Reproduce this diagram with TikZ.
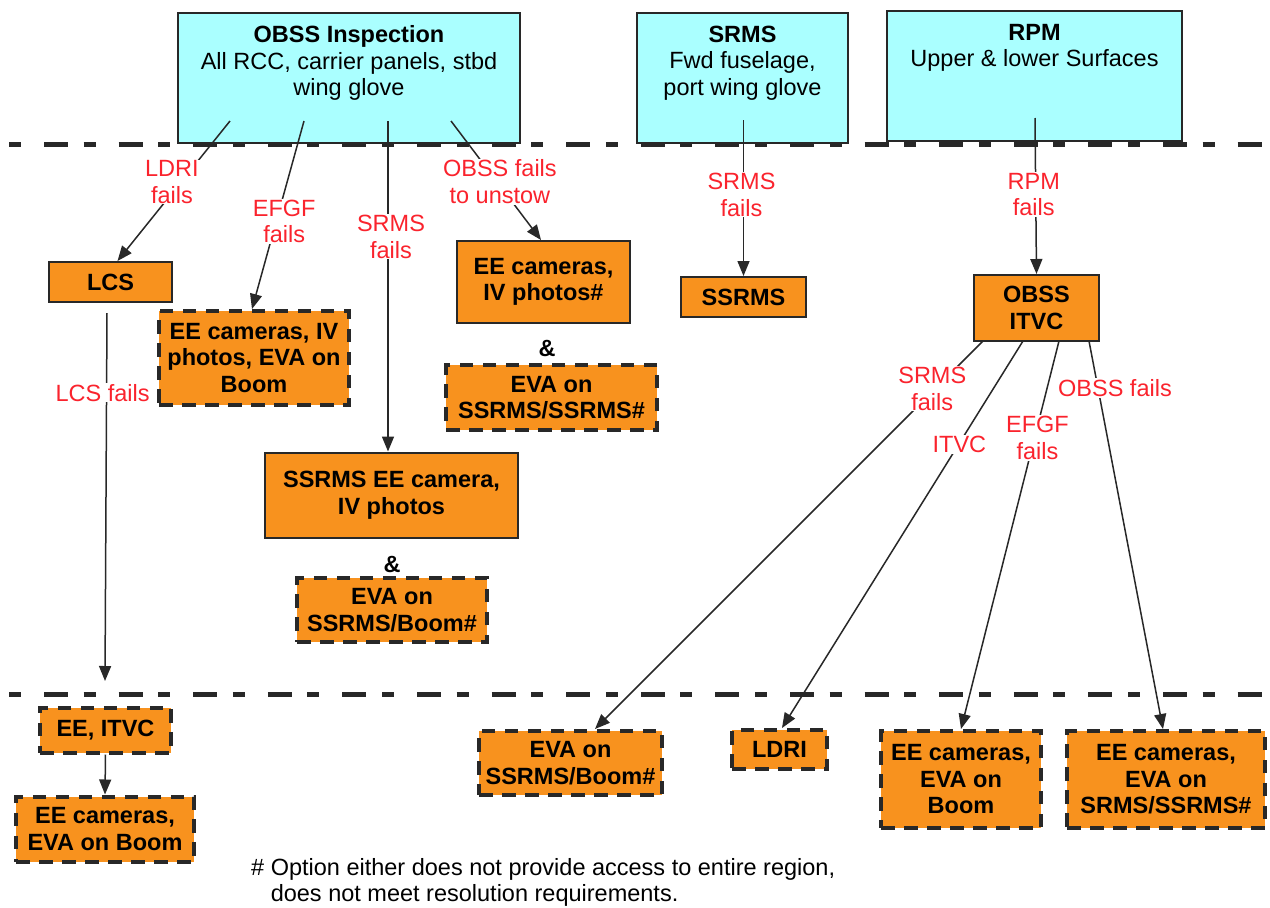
\documentclass[tikz,border=0pt]{standalone}
\usepackage{fontspec}
\setmainfont{Liberation Sans}
\usetikzlibrary{arrows.meta}
\definecolor{cyanbox}{RGB}{170,255,255}
\definecolor{orangebox}{RGB}{248,146,30}
\definecolor{edgec}{RGB}{40,40,40}
\definecolor{lblred}{RGB}{250,35,45}
\begin{document}
\begin{tikzpicture}[x=1pt,y=-1pt,
  topbox/.style={rectangle, draw=edgec, line width=2pt, fill=cyanbox, inner sep=0pt},
  toptext/.style={align=center, inner sep=0pt, anchor=north, font=\fontsize{23.5}{26.5}\selectfont},
  obox/.style={rectangle, draw=edgec, line width=2pt, fill=orangebox, inner sep=0pt, align=center, font=\fontsize{23.5}{26.5}\selectfont\bfseries},
  dbox/.style={obox, line width=4pt, dash pattern=on 13.5pt off 9.5pt},
  ampnode/.style={inner sep=0pt, font=\fontsize{23.5}{26.5}\selectfont\bfseries},
  conn/.style={draw=edgec, line width=1.5pt, -{Triangle[length=15pt,width=12pt]}},
  lbl/.style={fill=white, text=lblred, align=center, inner sep=1pt, font=\fontsize{23.5}{26.5}\selectfont},
  sepline/.style={draw=edgec, line width=5pt, dash pattern=on 12pt off 23pt on 24pt off 15.6pt},
  foot/.style={align=left, inner sep=0pt, font=\fontsize{23.5}{26}\selectfont}
]
\fill[white] (0,0) rectangle (1270,908);
\useasboundingbox (0,0) rectangle (1270,908);

% top boxes
\node[topbox, minimum width=342pt, minimum height=130pt] (top1) at (349,78) {};
\node[toptext] (t1) at (349,25.5) {\textbf{OBSS Inspection}\\All RCC, carrier panels, stbd\\wing glove};
\node[topbox, minimum width=211pt, minimum height=130pt] (top2) at (742.5,78) {};
\node[toptext] (t2) at (742.5,25.5) {\textbf{SRMS}\\Fwd fuselage,\\port wing glove};
\node[topbox, minimum width=295pt, minimum height=130pt] (top3) at (1034.5,76) {};
\node[toptext] (t3) at (1034.5,24) {\textbf{RPM}\\Upper \& lower Surfaces};

% separators
\coordinate (sepAl) at (9,144.5);
\coordinate (sepAr) at (1262,144.5);
\coordinate (sepBl) at (9,694.5);
\coordinate (sepBr) at (1262,694.5);
\draw[sepline] (sepAl) -- (sepAr);
\draw[sepline] (sepBl) -- (sepBr);

% middle boxes
\node[obox, minimum width=123pt, minimum height=40pt] (lcs) at (110.5,282) {LCS};
\node[dbox, minimum width=190pt, minimum height=94pt] (eeiv) at (254,358) {EE cameras, IV\\photos, EVA on\\Boom};
\node[obox, minimum width=173pt, minimum height=82pt] (eeivp) at (543.5,282) {EE cameras,\\IV photos\#};
\node[ampnode] (amp1) at (547,348) {\&};
\node[dbox, minimum width=211pt, minimum height=65pt] (evass) at (551.5,397.5) {EVA on\\SSRMS/SSRMS\#};
\node[obox, minimum width=125pt, minimum height=40pt] (ssrms) at (743.5,297) {SSRMS};
\node[obox, minimum width=125pt, minimum height=66pt] (obssitvc) at (1036.5,308) {OBSS\\ITVC};
\node[obox, minimum width=253pt, minimum height=85pt] (ssrmsee) at (391.5,495) {SSRMS EE camera,\\IV photos};
\node[ampnode] (amp2) at (392,564) {\&};
\node[dbox, minimum width=190pt, minimum height=64pt] (evasb1) at (392,610) {EVA on\\SSRMS/Boom\#};

% bottom boxes
\node[dbox, minimum width=131pt, minimum height=45pt] (eeitvc) at (105.5,730) {EE, ITVC};
\node[dbox, minimum width=178pt, minimum height=65pt] (eeboom1) at (105,829) {EE cameras,\\EVA on Boom};
\node[dbox, minimum width=183pt, minimum height=64pt] (evasb2) at (570.5,763) {EVA on\\SSRMS/Boom\#};
\node[dbox, minimum width=95pt, minimum height=39pt] (ldri) at (779.5,749.5) {LDRI};
\node[dbox, minimum width=160pt, minimum height=97pt] (eeboom2) at (961,779.5) {EE cameras,\\EVA on\\Boom};
\node[dbox, minimum width=198pt, minimum height=97pt] (eesrms) at (1166,779.5) {EE cameras,\\EVA on\\SRMS/SSRMS\#};

% connector start points
\coordinate (s1) at (230,121);
\coordinate (s2) at (304,121);
\coordinate (s3) at (388,121);
\coordinate (s4) at (451,121);
\coordinate (s5) at (743.5,120);
\coordinate (s6) at (1035,118);
\coordinate (s7) at (107,313);
\coordinate (e7) at (105,681);
\coordinate (s9) at (983,341);
\coordinate (s10) at (1023,341);
\coordinate (s11) at (1059,341);
\coordinate (s12) at (1089,341);

% connectors
\draw[conn] (s1) -- node[lbl, pos=0.436, xshift=-9pt] (l1) {LDRI\\fails} ([xshift=7pt]lcs.north);
\draw[conn] (s2) -- node[lbl, pos=0.534, xshift=8pt] (l2) {EFGF\\fails} ([xshift=-2pt]eeiv.north);
\draw[conn] (s3) -- node[lbl, pos=0.35, xshift=3pt] (l3) {SRMS\\fails} ([xshift=-3.5pt]ssrmsee.north);
\draw[conn] (s4) -- node[lbl, pos=0.51, xshift=3pt] (l4) {OBSS fails\\to unstow} ([xshift=-2.5pt]eeivp.north);
\draw[conn] (s5) -- node[lbl, pos=0.48, xshift=-2pt] (l5) {SRMS\\fails} (ssrms.north);
\draw[conn] (s6) -- node[lbl, pos=0.49, xshift=-2pt] (l6) {RPM\\fails} (obssitvc.north);
\draw[conn] (s7) -- node[lbl, pos=0.217, xshift=-4pt] (l7) {LCS fails} (e7);
\draw[conn] (eeitvc.south) -- (eeboom1.north);
\draw[conn] (s9) -- node[lbl, pos=0.123, xshift=-3pt] (l9) {SRMS\\fails} ([xshift=24.5pt]evasb2.north);
\draw[conn] (s10) -- node[lbl, pos=0.268, xshift=1pt] (l10) {ITVC} ([xshift=2.5pt]ldri.north);
\draw[conn] (s11) -- node[lbl, pos=0.25, xshift=3pt] (l11) {EFGF\\fails} (eeboom2.north);
\draw[conn] (s12) -- node[lbl, pos=0.121, xshift=17pt] (l12) {OBSS fails} ([xshift=-3pt]eesrms.north);

% footnote
\node[foot, anchor=west] (note) at (251,882.5) {\#~Option either does not provide access to entire region,\\\phantom{\#~}does not meet resolution requirements.};
\end{tikzpicture}
\end{document}
